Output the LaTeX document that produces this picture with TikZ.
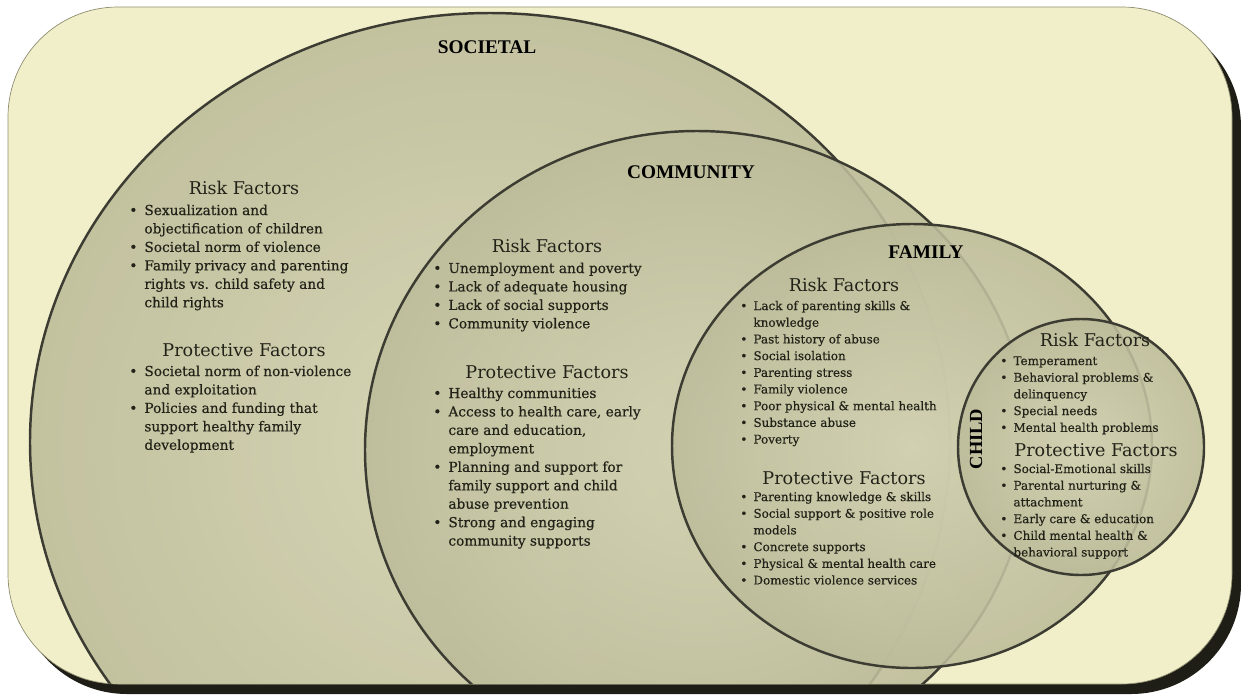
\documentclass[tikz,border=0pt]{standalone}
\usepackage{fontspec}
\setmainfont{DejaVu Serif}
\newfontfamily\titlefont{Liberation Serif}
\newfontfamily\itemfont{DejaVu Serif}[FakeBold=0.45]
\usepackage{xcolor}

\definecolor{bgcream}{HTML}{F1EFC9}
\definecolor{shadowcol}{HTML}{1E1E16}
\definecolor{bgline}{HTML}{8F8E70}
\definecolor{ringin}{HTML}{D3D2B3}
\definecolor{ringout}{HTML}{BDBC9A}
\definecolor{ringline}{HTML}{3C3C32}
\definecolor{itemcol}{HTML}{222219}

\newcommand{\bul}{\makebox[1.1em][l]{\textbullet}}

\begin{document}
\begin{tikzpicture}[x=0.02cm, y=-0.02cm,
    ring/.style={inner color=ringin, outer color=ringout, fill opacity=0.88},
    rim/.style={draw=ringline, line width=1.4pt},
    level/.style={font=\titlefont\bfseries\fontsize{11}{13}\selectfont, inner sep=0pt},
    heading/.style={font=\fontsize{10}{12}\selectfont, text=itemcol, inner sep=0pt},
    biglist/.style={anchor=base west, inner sep=0pt, text=itemcol, font=\itemfont\fontsize{7.8}{10.5}\selectfont},
    smalllist/.style={anchor=base west, inner sep=0pt, text=itemcol, font=\itemfont\fontsize{6.8}{9.5}\selectfont}]
    \useasboundingbox (0,0) rectangle (1241,694);
    % card and its shadow
    \fill [shadowcol, rounded corners=2.2cm] (17,17) rectangle (1241,694);
    \draw [bgline, fill=bgcream, rounded corners=2.2cm] (8,7) rectangle (1232,684);
    \begin{scope}
        \clip [rounded corners=2.2cm] (8,7) rectangle (1232,684);
        \shade [ring] (490,442) ellipse [x radius=460, y radius=429];
        \draw [rim] (490,442) ellipse [x radius=460, y radius=429];
        \shade [ring] (697,450) ellipse [x radius=332, y radius=319];
        \draw [rim] (697,450) ellipse [x radius=332, y radius=319];
        \shade [ring] (912,446) ellipse [x radius=240, y radius=222];
        \draw [rim] (912,446) ellipse [x radius=240, y radius=222];
        \shade [ring] (1081,447) ellipse [x radius=123, y radius=128];
        \draw [rim] (1081,447) ellipse [x radius=123, y radius=128];
    \end{scope}

    % levels
    \path (487,47) node [level] (soc) {SOCIETAL};
    \path (691,172) node [level] (com) {COMMUNITY};
    \path (926,252) node [level] (fam) {FAMILY};
    \path (976,439) node [level, rotate=90, font=\titlefont\bfseries\fontsize{10.5}{12}\selectfont] (chi) {CHILD};

    % societal
    \path (244,188) node [heading] (socrisk) {Risk Factors};
    \path (129,215) node [biglist] (socrisklist) {\begin{tabular}[t]{@{}l@{}l@{}}
        \bul & Sexualization and\\
             & objectification of children\\
        \bul & Societal norm of violence\\
        \bul & Family privacy and parenting\\
             & rights vs. child safety and\\
             & child rights
    \end{tabular}};
    \path (244,350) node [heading] (socprot) {Protective Factors};
    \path (129,376) node [biglist] (socprotlist) {\begin{tabular}[t]{@{}l@{}l@{}}
        \bul & Societal norm of non-violence\\
             & and exploitation\\
        \bul & Policies and funding that\\
             & support healthy family\\
             & development
    \end{tabular}};

    % community
    \path (547,246) node [heading] (comrisk) {Risk Factors};
    \path (433,273) node [biglist] (comrisklist) {\begin{tabular}[t]{@{}l@{}l@{}}
        \bul & Unemployment and poverty\\
        \bul & Lack of adequate housing\\
        \bul & Lack of social supports\\
        \bul & Community violence
    \end{tabular}};
    \path (547,372) node [heading] (comprot) {Protective Factors};
    \path (433,398) node [biglist] (comprotlist) {\begin{tabular}[t]{@{}l@{}l@{}}
        \bul & Healthy communities\\
        \bul & Access to health care, early\\
             & care and education,\\
             & employment\\
        \bul & Planning and support for\\
             & family support and child\\
             & abuse prevention\\
        \bul & Strong and engaging\\
             & community supports
    \end{tabular}};

    % family
    \path (844,285) node [heading] (famrisk) {Risk Factors};
    \path (740,310) node [smalllist] (famrisklist) {\begin{tabular}[t]{@{}l@{}l@{}}
        \bul & Lack of parenting skills \&\\
             & knowledge\\
        \bul & Past history of abuse\\
        \bul & Social isolation\\
        \bul & Parenting stress\\
        \bul & Family violence\\
        \bul & Poor physical \& mental health\\
        \bul & Substance abuse\\
        \bul & Poverty
    \end{tabular}};
    \path (844,478) node [heading] (famprot) {Protective Factors};
    \path (740,501) node [smalllist] (famprotlist) {\begin{tabular}[t]{@{}l@{}l@{}}
        \bul & Parenting knowledge \& skills\\
        \bul & Social support \& positive role\\
             & models\\
        \bul & Concrete supports\\
        \bul & Physical \& mental health care\\
        \bul & Domestic violence services
    \end{tabular}};

    % child
    \path (1095,340) node [heading] (chirisk) {Risk Factors};
    \path (1000,365) node [smalllist] (chirisklist) {\begin{tabular}[t]{@{}l@{}l@{}}
        \bul & Temperament\\
        \bul & Behavioral problems \&\\
             & delinquency\\
        \bul & Special needs\\
        \bul & Mental health problems
    \end{tabular}};
    \path (1096,450) node [heading] (chiprot) {Protective Factors};
    \path (1000,473) node [smalllist] (chiprotlist) {\begin{tabular}[t]{@{}l@{}l@{}}
        \bul & Social-Emotional skills\\
        \bul & Parental nurturing \&\\
             & attachment\\
        \bul & Early care \& education\\
        \bul & Child mental health \&\\
             & behavioral support
    \end{tabular}};
\end{tikzpicture}
\end{document}
